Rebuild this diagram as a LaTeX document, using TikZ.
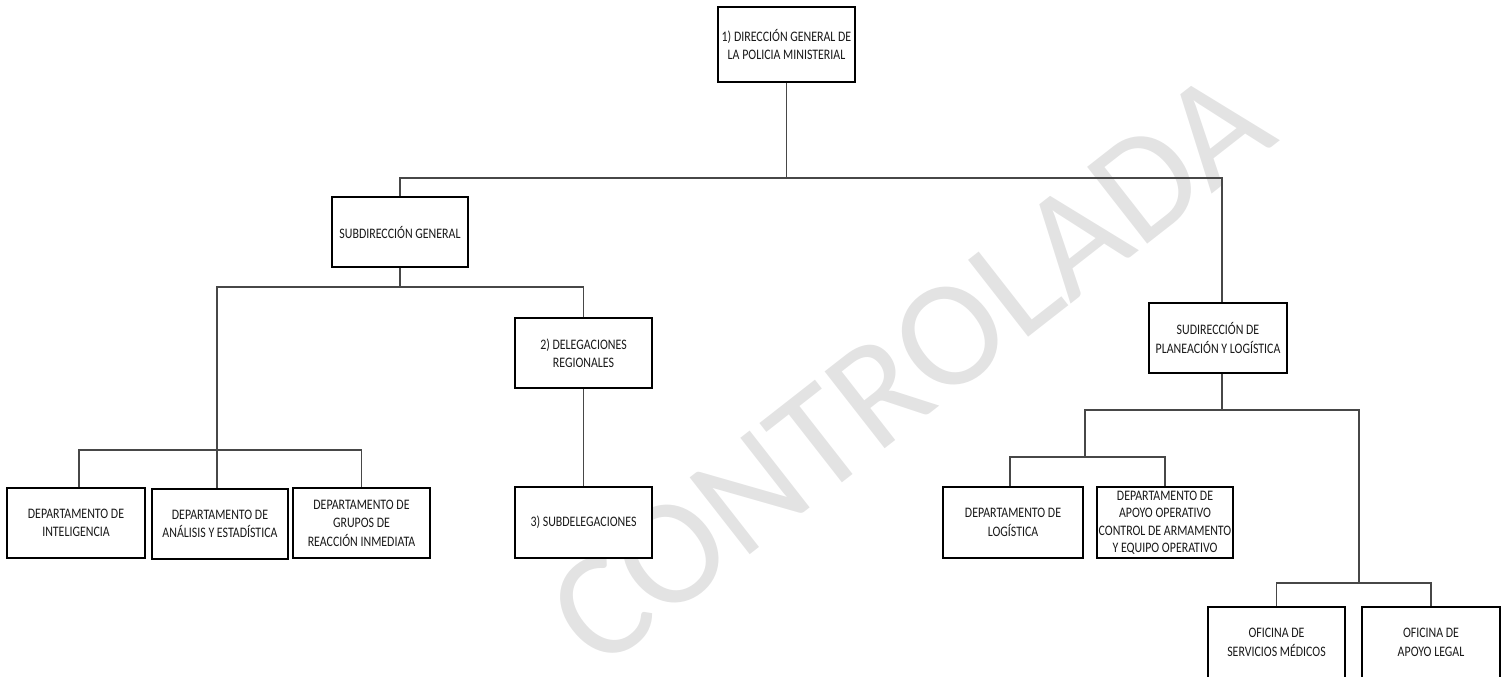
\documentclass[tikz,border=0pt]{standalone}
\usepackage{fontspec}
\setmainfont{Carlito}[FakeStretch=0.82]
\newfontfamily\wmfont{Carlito}
\begin{document}
\begin{tikzpicture}[x=1pt,y=-1pt,
  box/.style={draw=black,line width=1.1pt,fill=white,inner sep=0pt,align=center,
    text=black!90,font=\fontsize{14.5}{18.5}\selectfont},
  conn/.style={draw=black!72,line width=1.2pt}]
\useasboundingbox (0,0) rectangle (1507,677);
\begin{scope}
\clip (0,0) rectangle (1507,677);
\node[rotate=38,text=black!11,font=\wmfont\fontsize{152}{152}\selectfont,inner sep=0pt] (wm) at (910,368) {CONTROLADA};

% boxes
\node[box,minimum width=137pt,minimum height=75pt] (top) at (786.5,44.5) {1) DIRECCIÓN GENERAL DE\\LA POLICIA MINISTERIAL};
\node[box,minimum width=136pt,minimum height=70pt] (sub) at (400,232) {SUBDIRECCIÓN GENERAL};
\node[box,minimum width=138pt,minimum height=70pt] (int) at (76,523) {DEPARTAMENTO DE\\INTELIGENCIA};
\node[box,minimum width=136pt,minimum height=70pt] (ana) at (220,524) {DEPARTAMENTO DE\\ANÁLISIS Y ESTADÍSTICA};
\node[box,minimum width=137pt,minimum height=70pt] (gru) at (361.5,523) {DEPARTAMENTO DE\\GRUPOS DE\\REACCIÓN INMEDIATA};
\node[box,minimum width=137pt,minimum height=70pt] (del) at (583.5,353) {2) DELEGACIONES\\REGIONALES};
\node[box,minimum width=137pt,minimum height=71pt] (subdel) at (583.5,522.5) {3) SUBDELEGACIONES};
\node[box,minimum width=138pt,minimum height=70pt] (sud) at (1218,338) {SUDIRECCIÓN DE\\PLANEACIÓN Y LOGÍSTICA};
\node[box,minimum width=140pt,minimum height=71pt] (log) at (1013,522.5) {DEPARTAMENTO DE\\LOGÍSTICA};
\node[box,minimum width=136pt,minimum height=71pt,font=\fontsize{14.5}{17.5}\selectfont] (apo) at (1165,522.5) {DEPARTAMENTO DE\\APOYO OPERATIVO\\CONTROL DE ARMAMENTO\\Y EQUIPO OPERATIVO};
\node[box,minimum width=137pt,minimum height=71pt] (of1) at (1276.5,642.5) {OFICINA DE\\SERVICIOS MÉDICOS};
\node[box,minimum width=138pt,minimum height=71pt] (of2) at (1431,642.5) {OFICINA DE\\APOYO LEGAL};

% junction coordinates
\coordinate (b1) at (786.5,178);
\coordinate (sudin) at ([xshift=4pt]sud.north);
\coordinate (sudout) at ([xshift=4pt]sud.south);
\coordinate (b2) at (400,287);
\coordinate (b3) at (217,450);
\coordinate (intin) at ([xshift=3pt]int.north);
\coordinate (b4) at (1222,410);
\coordinate (b5) at (1085,457);
\coordinate (b6) at (1359,583);
\coordinate (login) at ([xshift=-3pt]log.north);

% connectors
\draw[conn] (top.south) -- (b1);
\draw[conn] (sub.north) |- (b1) -| (sudin);
\draw[conn] (sub.south) -- (b2);
\draw[conn] (del.north) |- (b2) -| (b3);
\draw[conn] (intin) |- (b3) -| (gru.north);
\draw[conn] (b3) -- (b3 |- ana.north);
\draw[conn] (del.south) -- (subdel.north);
\draw[conn] (sudout) -- (b4);
\draw[conn] (b5) |- (b4) -| (b6);
\draw[conn] (login) |- (b5) -| (apo.north);
\draw[conn] (of1.north) |- (b6) -| (of2.north);
\end{scope}
\end{tikzpicture}
\end{document}
